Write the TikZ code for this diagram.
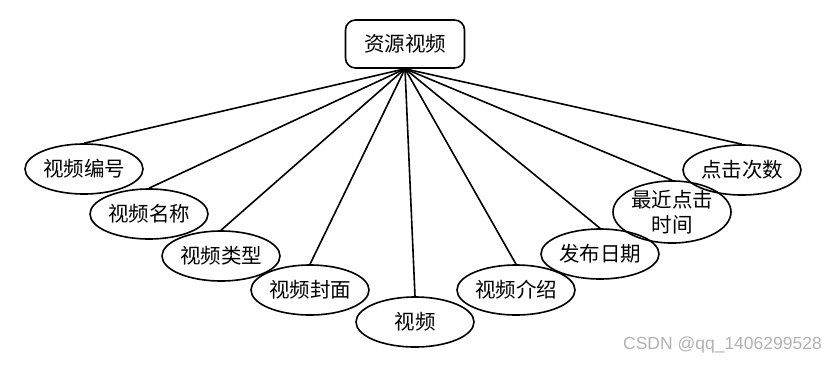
\documentclass[tikz,border=0pt]{standalone}
\usepackage{fontspec}
\newfontfamily\cjk{Noto Sans CJK SC}
\newfontfamily\wmfont{Liberation Sans}
\usetikzlibrary{shapes.geometric}

\begin{document}
\begin{tikzpicture}[x=1pt, y=-1pt, line width=1.6pt,
  attr/.style={ellipse, draw, minimum width=118pt, minimum height=50pt, inner sep=0pt,
    align=center, font=\cjk\fontsize{20.5}{25}\selectfont}]
\useasboundingbox (0,0) rectangle (840,365);
\node[draw, rounded corners=10pt, minimum width=119pt, minimum height=48pt,
  font=\cjk\fontsize{20.5}{25}\selectfont] (root) at (405,44) {资源视频};
\foreach \t/\x/\y [count=\i] in {视频编号/84/169, 视频名称/149/214, 视频类型/221/256,
    视频封面/310/290, 视频/415/322, 视频介绍/516/290, 发布日期/600/254,
    {最近点击\\时间}/672/212, 点击次数/742/170}
{
  \node[attr] (a\i) at (\x,\y) {\t};
  \draw (root.south) -- (a\i.north);
}
\node[text=gray!60, font=\wmfont\fontsize{17.5}{20}\selectfont, anchor=east] (wm) at (826,345) {CSDN @qq\_1406299528};
\end{tikzpicture}
\end{document}
